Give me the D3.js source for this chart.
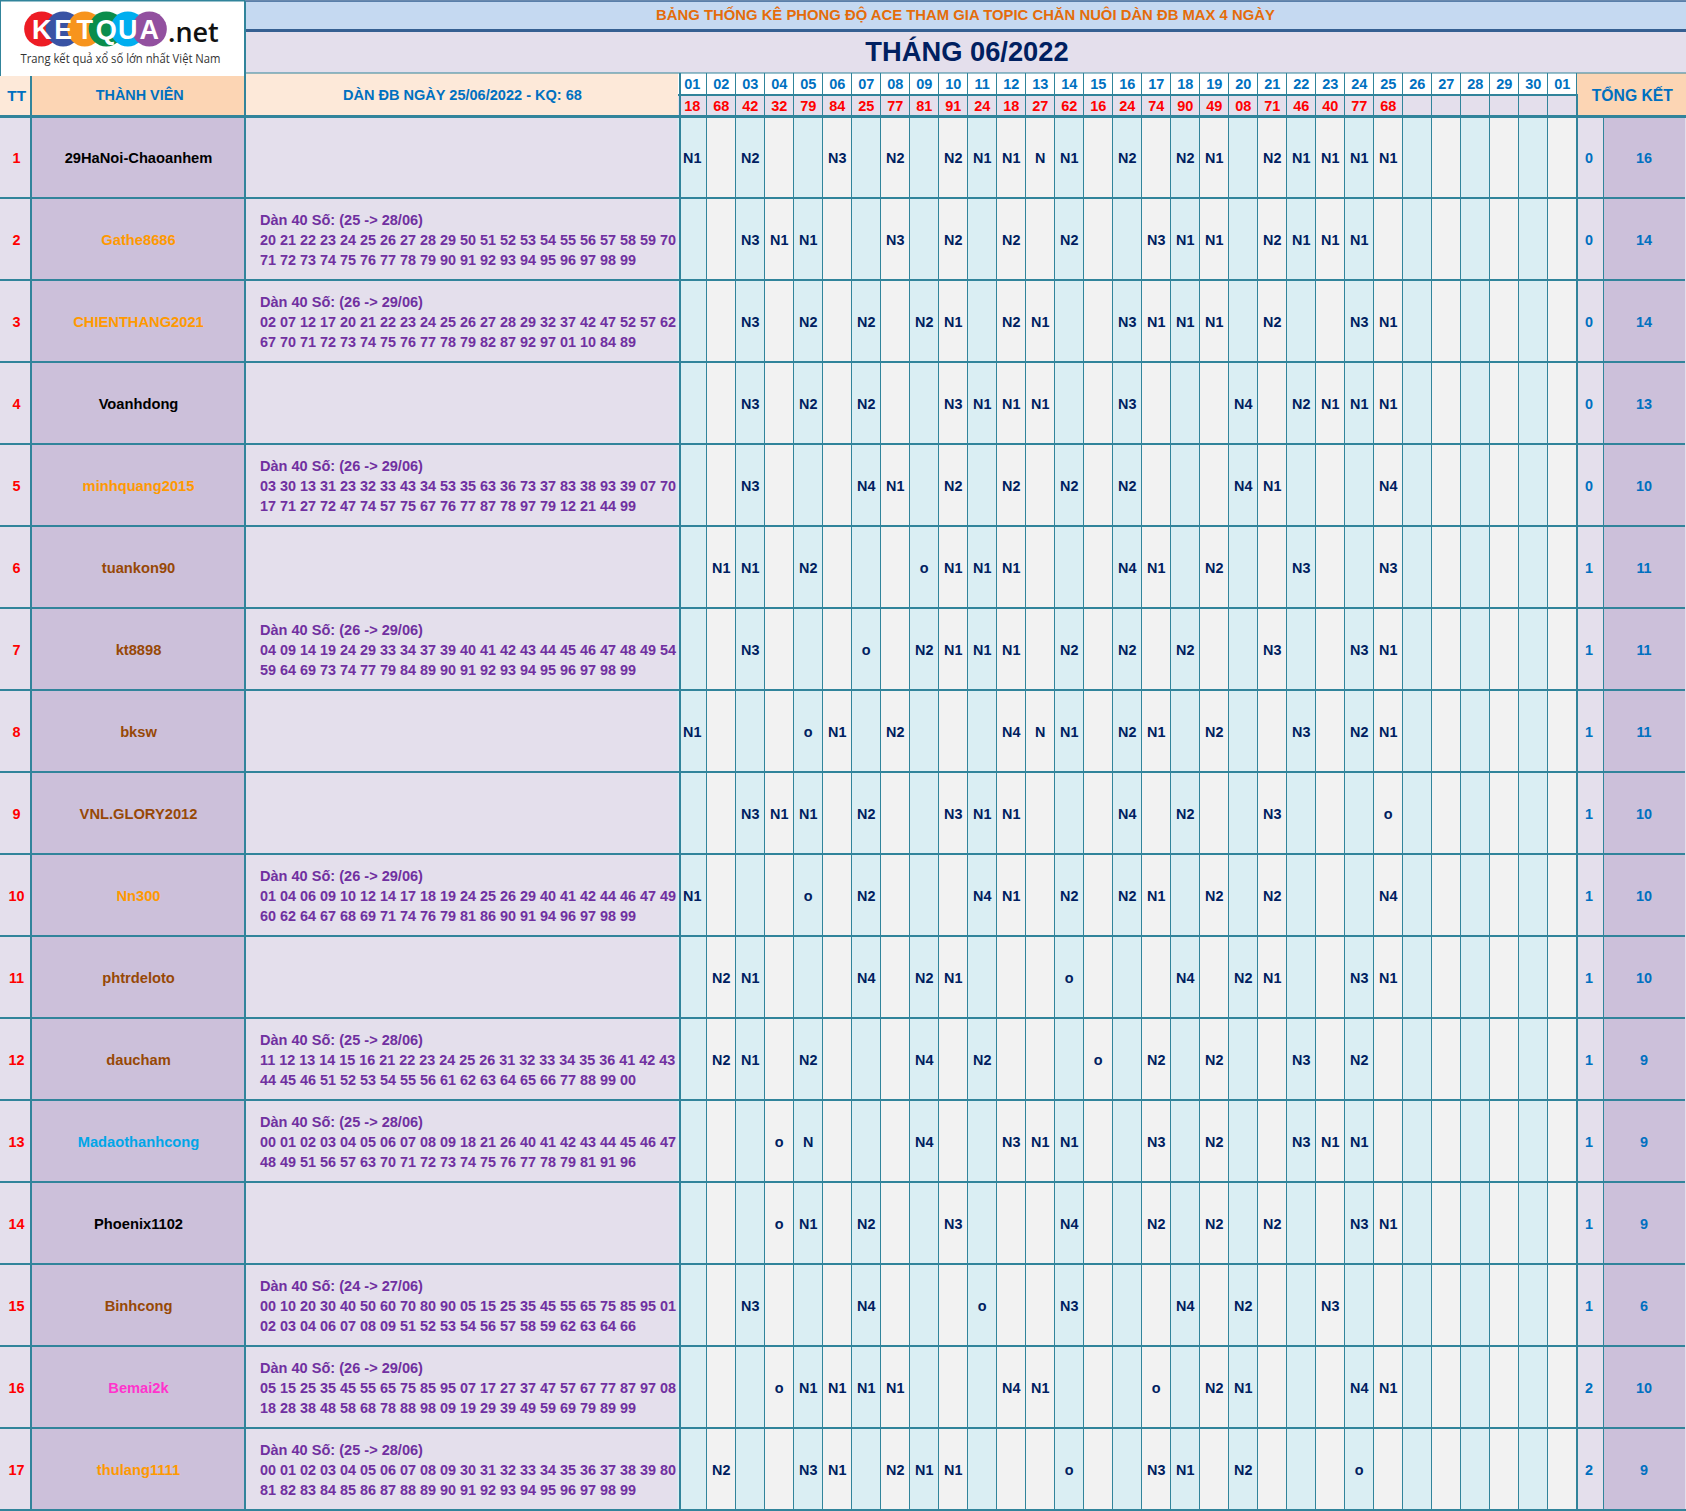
<!DOCTYPE html>
<html>
<head>
<meta charset="utf-8">
<title>THÁNG 06/2022</title>
<script src="https://cdn.jsdelivr.net/npm/d3@7"></script>
<style>
  html, body { margin: 0; padding: 0; background: #fff; }
  svg { display: block; }
  text { font-family: "Liberation Sans", Arial, sans-serif; font-weight: bold; }
</style>
</head>
<body>
<div id="chart"></div>
<script>
var topTitle = "BẢNG THỐNG KÊ PHONG ĐỘ ACE THAM GIA TOPIC CHĂN NUÔI DÀN ĐB MAX 4 NGÀY";
var monthTitle = "THÁNG 06/2022";
var headTT = "TT", headName = "THÀNH VIÊN", headDan = "DÀN ĐB NGÀY 25/06/2022 - KQ: 68", headSum = "TỔNG KẾT";

var logoLetters = ["K", "E", "T", "Q", "U", "A"];
var logoTail = ".net";
var logoSub = "Trang kết quả xổ số lớn nhất Việt Nam";

var days = ["01","02","03","04","05","06","07","08","09","10","11","12","13","14","15","16",
            "17","18","19","20","21","22","23","24","25","26","27","28","29","30","01"];
var results = ["18","68","42","32","79","84","25","77","81","91","24","18","27","62","16","24",
               "74","90","49","08","71","46","40","77","68","","","","","",""];

var members = ["29HaNoi-Chaoanhem","Gathe8686","CHIENTHANG2021","Voanhdong","minhquang2015","tuankon90",
               "kt8898","bksw","VNL.GLORY2012","Nn300","phtrdeloto","daucham","Madaothanhcong",
               "Phoenix1102","Binhcong","Bemai2k","thulang1111"];
var memberGroups = ["den","cam","cam","den","cam","nau","nau","nau","nau","cam","nau","nau","xanh","den","nau","hong","cam"];
var wins = [0,0,0,0,0,1,1,1,1,1,1,1,1,1,1,2,2];
var totals = [16,14,14,13,10,11,11,11,10,10,10,9,9,9,6,10,9];

var danRanges = ["","25 -> 28/06","26 -> 29/06","","26 -> 29/06","","26 -> 29/06","","","26 -> 29/06",
                 "","25 -> 28/06","25 -> 28/06","","24 -> 27/06","26 -> 29/06","25 -> 28/06"];
var danLine1 = ["",
  "20 21 22 23 24 25 26 27 28 29 50 51 52 53 54 55 56 57 58 59 70",
  "02 07 12 17 20 21 22 23 24 25 26 27 28 29 32 37 42 47 52 57 62",
  "",
  "03 30 13 31 23 32 33 43 34 53 35 63 36 73 37 83 38 93 39 07 70",
  "",
  "04 09 14 19 24 29 33 34 37 39 40 41 42 43 44 45 46 47 48 49 54",
  "", "",
  "01 04 06 09 10 12 14 17 18 19 24 25 26 29 40 41 42 44 46 47 49",
  "",
  "11 12 13 14 15 16 21 22 23 24 25 26 31 32 33 34 35 36 41 42 43",
  "00 01 02 03 04 05 06 07 08 09 18 21 26 40 41 42 43 44 45 46 47",
  "",
  "00 10 20 30 40 50 60 70 80 90 05 15 25 35 45 55 65 75 85 95 01",
  "05 15 25 35 45 55 65 75 85 95 07 17 27 37 47 57 67 77 87 97 08",
  "00 01 02 03 04 05 06 07 08 09 30 31 32 33 34 35 36 37 38 39 80"];
var danLine2 = ["",
  "71 72 73 74 75 76 77 78 79 90 91 92 93 94 95 96 97 98 99",
  "67 70 71 72 73 74 75 76 77 78 79 82 87 92 97 01 10 84 89",
  "",
  "17 71 27 72 47 74 57 75 67 76 77 87 78 97 79 12 21 44 99",
  "",
  "59 64 69 73 74 77 79 84 89 90 91 92 93 94 95 96 97 98 99",
  "", "",
  "60 62 64 67 68 69 71 74 76 79 81 86 90 91 94 96 97 98 99",
  "",
  "44 45 46 51 52 53 54 55 56 61 62 63 64 65 66 77 88 99 00",
  "48 49 51 56 57 63 70 71 72 73 74 75 76 77 78 79 81 91 96",
  "",
  "02 03 04 06 07 08 09 51 52 53 54 56 57 58 59 62 63 64 66",
  "18 28 38 48 58 68 78 88 98 09 19 29 39 49 59 69 79 89 99",
  "81 82 83 84 85 86 87 88 89 90 91 92 93 94 95 96 97 98 99"];

// column number (1-31) and mark, one list per member
var marks = [
  [[1,"N1"],[3,"N2"],[6,"N3"],[8,"N2"],[10,"N2"],[11,"N1"],[12,"N1"],[13,"N"],[14,"N1"],[16,"N2"],[18,"N2"],[19,"N1"],[21,"N2"],[22,"N1"],[23,"N1"],[24,"N1"],[25,"N1"]],
  [[3,"N3"],[4,"N1"],[5,"N1"],[8,"N3"],[10,"N2"],[12,"N2"],[14,"N2"],[17,"N3"],[18,"N1"],[19,"N1"],[21,"N2"],[22,"N1"],[23,"N1"],[24,"N1"]],
  [[3,"N3"],[5,"N2"],[7,"N2"],[9,"N2"],[10,"N1"],[12,"N2"],[13,"N1"],[16,"N3"],[17,"N1"],[18,"N1"],[19,"N1"],[21,"N2"],[24,"N3"],[25,"N1"]],
  [[3,"N3"],[5,"N2"],[7,"N2"],[10,"N3"],[11,"N1"],[12,"N1"],[13,"N1"],[16,"N3"],[20,"N4"],[22,"N2"],[23,"N1"],[24,"N1"],[25,"N1"]],
  [[3,"N3"],[7,"N4"],[8,"N1"],[10,"N2"],[12,"N2"],[14,"N2"],[16,"N2"],[20,"N4"],[21,"N1"],[25,"N4"]],
  [[2,"N1"],[3,"N1"],[5,"N2"],[9,"o"],[10,"N1"],[11,"N1"],[12,"N1"],[16,"N4"],[17,"N1"],[19,"N2"],[22,"N3"],[25,"N3"]],
  [[3,"N3"],[7,"o"],[9,"N2"],[10,"N1"],[11,"N1"],[12,"N1"],[14,"N2"],[16,"N2"],[18,"N2"],[21,"N3"],[24,"N3"],[25,"N1"]],
  [[1,"N1"],[5,"o"],[6,"N1"],[8,"N2"],[12,"N4"],[13,"N"],[14,"N1"],[16,"N2"],[17,"N1"],[19,"N2"],[22,"N3"],[24,"N2"],[25,"N1"]],
  [[3,"N3"],[4,"N1"],[5,"N1"],[7,"N2"],[10,"N3"],[11,"N1"],[12,"N1"],[16,"N4"],[18,"N2"],[21,"N3"],[25,"o"]],
  [[1,"N1"],[5,"o"],[7,"N2"],[11,"N4"],[12,"N1"],[14,"N2"],[16,"N2"],[17,"N1"],[19,"N2"],[21,"N2"],[25,"N4"]],
  [[2,"N2"],[3,"N1"],[7,"N4"],[9,"N2"],[10,"N1"],[14,"o"],[18,"N4"],[20,"N2"],[21,"N1"],[24,"N3"],[25,"N1"]],
  [[2,"N2"],[3,"N1"],[5,"N2"],[9,"N4"],[11,"N2"],[15,"o"],[17,"N2"],[19,"N2"],[22,"N3"],[24,"N2"]],
  [[4,"o"],[5,"N"],[9,"N4"],[12,"N3"],[13,"N1"],[14,"N1"],[17,"N3"],[19,"N2"],[22,"N3"],[23,"N1"],[24,"N1"]],
  [[4,"o"],[5,"N1"],[7,"N2"],[10,"N3"],[14,"N4"],[17,"N2"],[19,"N2"],[21,"N2"],[24,"N3"],[25,"N1"]],
  [[3,"N3"],[7,"N4"],[11,"o"],[14,"N3"],[18,"N4"],[20,"N2"],[23,"N3"]],
  [[4,"o"],[5,"N1"],[6,"N1"],[7,"N1"],[8,"N1"],[12,"N4"],[13,"N1"],[17,"o"],[19,"N2"],[20,"N1"],[24,"N4"],[25,"N1"]],
  [[2,"N2"],[5,"N3"],[6,"N1"],[8,"N2"],[9,"N1"],[10,"N1"],[14,"o"],[17,"N3"],[18,"N1"],[20,"N2"],[24,"o"]]
];

// columns drawn with the light blue fill
var blueColumns = [1,3,5,7,9,11,14,16,18,20,22,24,26,28,30];

var width = 1686, height = 1511;
var TEAL = "#31849b", LILAC = "#e4dfec", MAUVE = "#ccc0da", PEACH = "#fcd5b4", CREAM = "#fde9d9",
    ICE = "#daeef3", GREY = "#f2f2f2", SKY = "#c5d9f1", NAVY = "#002060", BLUE = "#0070c0", RED = "#ff0000", PURPLE = "#7030a0";

var svg = d3.select("#chart").append("svg").attr("width", width).attr("height", height);

var colIndex = d3.range(1, days.length + 1);
var x = d3.scaleBand().domain(colIndex).range([677.5, 1576.5]);
var y = d3.scaleBand().domain(d3.range(members.length)).range([116, 1510]);
var nameColor = d3.scaleOrdinal()
    .domain(["den", "cam", "nau", "xanh", "hong"])
    .range(["#000000", "#ff9900", "#974806", "#00a6e8", "#ff33cc"]);
var logoX = d3.scaleBand().domain(logoLetters).range([30.9, 160.1]);
var logoColor = d3.scaleOrdinal().domain(logoLetters)
    .range(["#ed1c24", "#3953a4", "#f7941d", "#0b8d4c", "#00aeef", "#92509f"]);

function rect(x0, y0, w, h, fill) {
    return svg.append("rect").attr("x", x0).attr("y", y0).attr("width", w).attr("height", h).attr("fill", fill);
}
function line(x1, y1, x2, y2, w, color) {
    return svg.append("line").attr("x1", x1).attr("y1", y1).attr("x2", x2).attr("y2", y2)
        .attr("stroke", color || TEAL).attr("stroke-width", w);
}
function label(tx, ty, str, size, color, anchor) {
    return svg.append("text").attr("x", tx).attr("y", ty).attr("dy", "0.36em")
        .attr("text-anchor", anchor || "middle").attr("font-size", size).attr("fill", color).text(str);
}

// header backgrounds
rect(0, 0, width, height, "#fff");
rect(245, 1, width - 245, 28, SKY);
rect(245, 32, width - 245, 41, LILAC);
rect(0, 76, 31, 40, CREAM);
rect(31, 76, 214, 40, PEACH);
rect(245, 73, 433, 43, CREAM);
rect(1577, 73, width - 1577, 43, PEACH);

// fixed columns
rect(0, 116, 31, 1394, LILAC);
rect(31, 116, 214, 1394, MAUVE);
rect(245, 116, 433, 1394, LILAC);
rect(1577, 116, 26, 1394, LILAC);
rect(1603, 116, width - 1603, 1394, MAUVE);

// day columns
svg.append("g").selectAll("rect").data(colIndex).enter().append("rect")
    .attr("x", function (d) { return x(d); })
    .attr("y", 116)
    .attr("width", x.bandwidth())
    .attr("height", y.range()[1] - y.range()[0])
    .attr("fill", function (d) { return blueColumns.indexOf(d) >= 0 ? ICE : GREY; });
rect(678, 74, 899, 20, "#fff");
rect(678, 94, 899, 22, LILAC);

// grid lines
svg.append("g").selectAll("line").data(colIndex.slice(1)).enter().append("line")
    .attr("x1", function (d) { return x(d); })
    .attr("x2", function (d) { return x(d); })
    .attr("y1", 73)
    .attr("y2", 1510)
    .attr("stroke", TEAL)
    .attr("stroke-width", 1);
svg.append("g").selectAll("line").data(d3.range(1, members.length)).enter().append("line")
    .attr("x1", 0)
    .attr("x2", width)
    .attr("y1", function (d) { return y(d); })
    .attr("y2", function (d) { return y(d); })
    .attr("stroke", TEAL)
    .attr("stroke-width", 2);

line(1685.5, 116, 1685.5, 1510, 1, LILAC);
line(0, 0.75, 245, 0.75, 1.5);
line(245, 1, width, 1, 1.5, "#366092");
line(0.5, 0, 0.5, 76, 1);
line(245, 30.5, width, 30.5, 3, "#366092");
line(245, 73, width, 73, 1, TEAL);
line(0, 116.5, width, 116.5, 3);
line(0, 1510, width, 1510, 2);
line(678, 95, 1577, 95, 2);
line(31, 76, 31, 1510, 2);
line(245, 1, 245, 1510, 2);
line(680, 73, 680, 1510, 2);
line(1576.5, 73, 1576.5, 94, 1);
line(1577, 94, 1577, 1510, 2);
line(1603.5, 116, 1603.5, 1510, 1);

// logo
svg.append("g").selectAll("circle").data(logoLetters).enter().append("circle")
    .attr("cx", function (d) { return logoX(d) + logoX.bandwidth() / 2; })
    .attr("cy", 29)
    .attr("r", 17.5)
    .attr("fill", function (d) { return logoColor(d); });
svg.append("g").selectAll("text").data(logoLetters).enter().append("text")
    .attr("x", function (d) { return logoX(d) + logoX.bandwidth() / 2; })
    .attr("y", 29)
    .attr("dy", "0.36em")
    .attr("text-anchor", "middle")
    .attr("font-size", 27)
    .attr("fill", "#fff")
    .text(function (d) { return d; });
label(168, 32, logoTail, 27, "#111", "start").style("font-family", "'Open Sans'").style("font-weight", 600);
label(120.5, 58, logoSub, 13.5, "#333")
    .attr("textLength", 200).attr("lengthAdjust", "spacingAndGlyphs")
    .style("font-family", "'Open Sans'").style("font-weight", 400);

// titles
label(965.5, 15, topTitle, 14.85, "#e46c0a");
label(967, 51, monthTitle, 27.3, NAVY);
label(16.7, 95, headTT, 15.3, BLUE);
label(139.7, 95, headName, 14.4, BLUE);
label(462.4, 95, headDan, 14.55, BLUE);
label(1632.3, 95, headSum, 15.7, BLUE);

// day labels and results
var textShift = 0.2;
svg.append("g").selectAll("text").data(colIndex).enter().append("text")
    .attr("x", function (d) { return x(d) + x.bandwidth() / 2 + textShift; })
    .attr("y", 84)
    .attr("dy", "0.36em")
    .attr("text-anchor", "middle")
    .attr("font-size", 14.5)
    .attr("fill", BLUE)
    .text(function (d) { return days[d - 1]; });
svg.append("g").selectAll("text").data(colIndex).enter().append("text")
    .attr("x", function (d) { return x(d) + x.bandwidth() / 2 + textShift; })
    .attr("y", 105.5)
    .attr("dy", "0.36em")
    .attr("text-anchor", "middle")
    .attr("font-size", 14.5)
    .attr("fill", RED)
    .text(function (d) { return results[d - 1]; });

// member rows
var rows = svg.append("g").selectAll("g").data(members).enter().append("g")
    .attr("transform", function (d, i) { return "translate(0," + y(i) + ")"; });
var mid = y.bandwidth() / 2 + 0.7;

function rowText(sel, tx, fn, color, size) {
    sel.append("text")
        .attr("x", tx)
        .attr("y", mid)
        .attr("dy", "0.36em")
        .attr("text-anchor", "middle")
        .attr("font-size", size)
        .attr("fill", color)
        .text(fn);
}
rowText(rows, 16.5, function (d, i) { return i + 1; }, RED, 14.4);
rows.append("text")
    .attr("x", 138.5)
    .attr("y", mid)
    .attr("dy", "0.36em")
    .attr("text-anchor", "middle")
    .attr("font-size", 14.7)
    .attr("fill", function (d, i) { return nameColor(memberGroups[i]); })
    .text(function (d) { return d; });
rowText(rows, 1589, function (d, i) { return wins[i]; }, BLUE, 14.4);
rowText(rows, 1644, function (d, i) { return totals[i]; }, BLUE, 14.4);

// dàn số, three lines of text when the member has one
function danText(dy, size, fn) {
    rows.append("text")
        .attr("x", 260)
        .attr("y", dy)
        .attr("dy", "0.36em")
        .attr("font-size", size)
        .attr("fill", PURPLE)
        .text(fn);
}
danText(21.5, 14.55, function (d, i) { return danRanges[i] ? "Dàn 40 Số: (" + danRanges[i] + ")" : ""; });
danText(41.5, 14.4, function (d, i) { return danLine1[i]; });
danText(61.5, 14.4, function (d, i) { return danLine2[i]; });

// N1, N2 ... marks
rows.each(function (d, i) {
    d3.select(this).selectAll("text.mark").data(marks[i]).enter().append("text")
        .attr("class", "mark")
        .attr("x", function (m) { return x(m[0]) + x.bandwidth() / 2 + textShift; })
        .attr("y", mid)
        .attr("dy", "0.36em")
        .attr("text-anchor", "middle")
        .attr("font-size", 14.4)
        .attr("fill", NAVY)
        .text(function (m) { return m[1]; });
});
</script>
</body>
</html>
